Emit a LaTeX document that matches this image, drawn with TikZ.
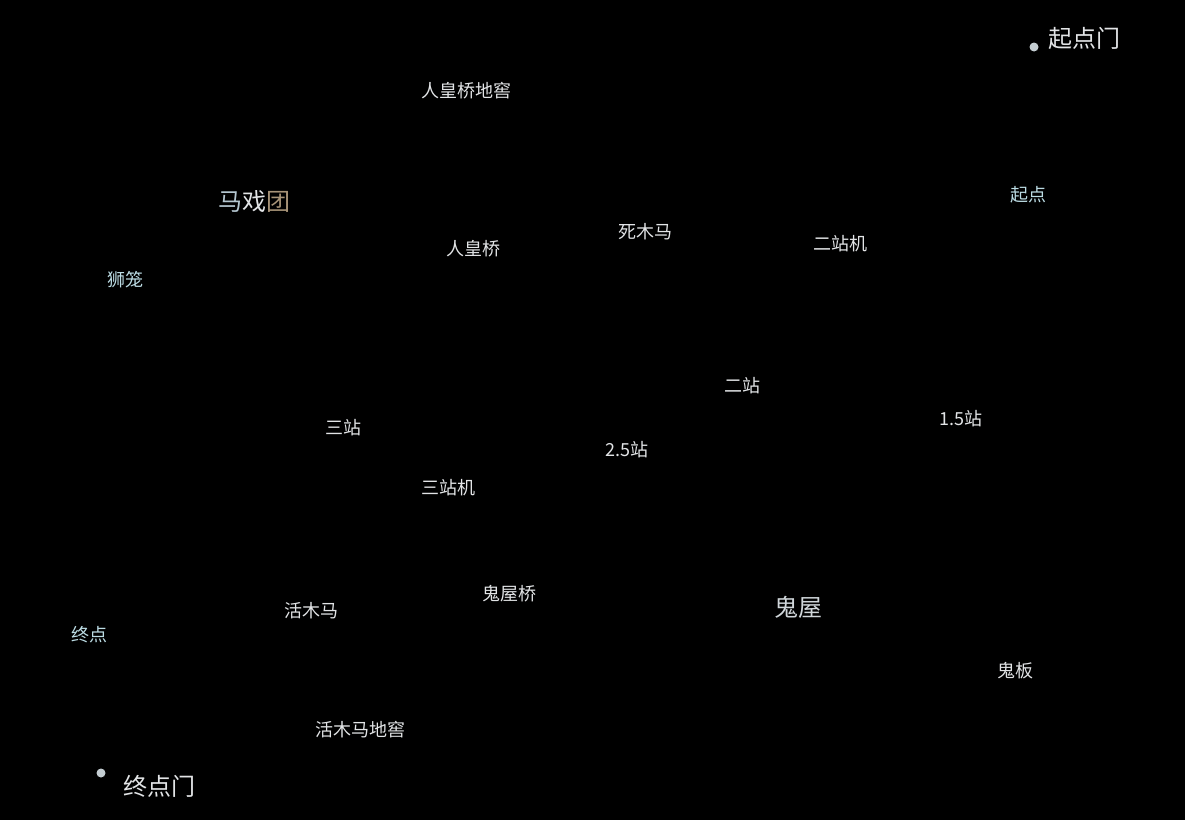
\documentclass[tikz,border=0pt]{standalone}
\usepackage{fontspec}
\setmainfont{Noto Sans CJK SC}
\usepackage{tikz}
\definecolor{Ink}{HTML}{E2E4E6}
\definecolor{Cyanish}{HTML}{BCDCE4}
\definecolor{DotGrey}{HTML}{C4CDD2}
\definecolor{Tan}{HTML}{A89478}
\definecolor{Steel}{HTML}{B4C6D0}

\tikzset{
  spot/.style={Ink,font=\fontsize{18}{18}\selectfont,inner sep=0pt},
  bigspot/.style={spot,font=\fontsize{24}{24}\selectfont},
  gate/.style={circle,fill=DotGrey,inner sep=0pt,minimum size=9pt}
}

\begin{document}
\begin{tikzpicture}[x=1pt,y=-1pt]
  \fill[black] (0,0) rectangle (1185,820);
  \useasboundingbox (0,0) rectangle (1185,820);
  % gates
  \node[gate] (startdot) at (1034,47) {};
  \node[bigspot,anchor=west] (startgate) at (1048,38) {起点门};
  \node[gate] (enddot) at (101,773) {};
  \node[bigspot,anchor=west] (endgate) at (123,786) {终点门};
  % places
  \node[spot] (cellar) at (466,91) {人皇桥地窖};
  \node[bigspot] (circus) at (254,202) {{\color{Steel}马}{\color{Ink}戏}{\color{Tan}团}};
  \node[spot,Cyanish] (start) at (1028,195) {起点};
  \node[spot] (deadhorse) at (645,232) {死木马};
  \node[spot] (st2m) at (840,244) {二站机};
  \node[spot] (bridge) at (473,249) {人皇桥};
  \node[spot,Cyanish] (lion) at (125,280) {狮笼};
  \node[spot] (st2) at (742,386) {二站};
  \node[spot] (st15) at (961,419) {1.5站};
  \node[spot] (st3) at (343,428) {三站};
  \node[spot] (st25) at (627,450) {2.5站};
  \node[spot] (st3m) at (448,488) {三站机};
  \node[spot] (ghostbridge) at (509,594) {鬼屋桥};
  \node[bigspot,DotGrey!60!Ink] (ghost) at (798,607) {鬼屋};
  \node[spot] (livehorse) at (311,611) {活木马};
  \node[spot,Cyanish] (finish) at (89,635) {终点};
  \node[spot] (board) at (1015,671) {鬼板};
  \node[spot] (livecellar) at (360,730) {活木马地窖};
\end{tikzpicture}
\end{document}
